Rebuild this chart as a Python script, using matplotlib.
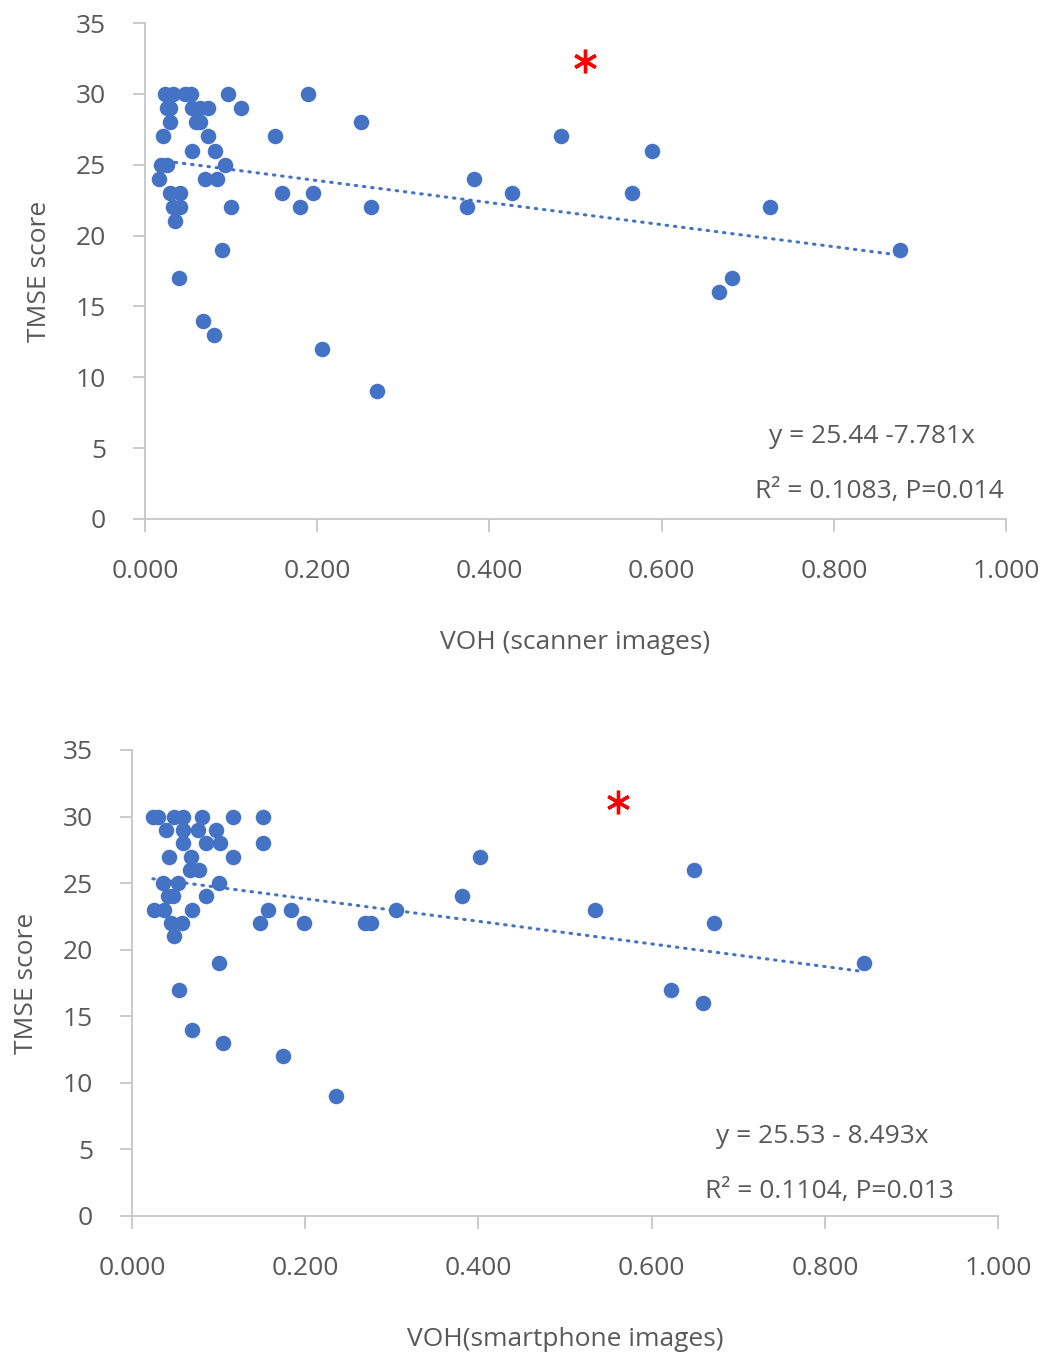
import matplotlib
matplotlib.use("Agg")
import matplotlib.pyplot as plt
import numpy as np

# ---- Data: top panel (scanner images) ----
scan_x = [0.023, 0.033, 0.046, 0.053, 0.096, 0.189,
          0.026, 0.029, 0.055, 0.064, 0.073, 0.111,
          0.029, 0.059, 0.064, 0.251,
          0.021, 0.073, 0.151, 0.483,
          0.055, 0.081, 0.589,
          0.019, 0.026, 0.093,
          0.016, 0.070, 0.083, 0.382,
          0.029, 0.041, 0.159, 0.195, 0.426, 0.566,
          0.033, 0.041, 0.100, 0.180, 0.262, 0.374, 0.726,
          0.035,
          0.089, 0.877,
          0.040, 0.682,
          0.667,
          0.067,
          0.080,
          0.206,
          0.269]
scan_y = [30, 30, 30, 30, 30, 30,
          29, 29, 29, 29, 29, 29,
          28, 28, 28, 28,
          27, 27, 27, 27,
          26, 26, 26,
          25, 25, 25,
          24, 24, 24, 24,
          23, 23, 23, 23, 23, 23,
          22, 22, 22, 22, 22, 22, 22,
          21,
          19, 19,
          17, 17,
          16,
          14,
          13,
          12,
          9]

# ---- Data: bottom panel (smartphone images) ----
phone_x = [0.024, 0.030, 0.049, 0.059, 0.081, 0.117, 0.151,
           0.039, 0.059, 0.076, 0.097,
           0.059, 0.085, 0.101, 0.151,
           0.043, 0.068, 0.117, 0.402,
           0.067, 0.077, 0.649,
           0.036, 0.053, 0.100,
           0.041, 0.047, 0.085, 0.381,
           0.025, 0.037, 0.069, 0.157, 0.184, 0.305, 0.535,
           0.045, 0.058, 0.148, 0.199, 0.269, 0.276, 0.672,
           0.049,
           0.100, 0.845,
           0.054, 0.622,
           0.659,
           0.069,
           0.105,
           0.174,
           0.236]
phone_y = [30, 30, 30, 30, 30, 30, 30,
           29, 29, 29, 29,
           28, 28, 28, 28,
           27, 27, 27, 27,
           26, 26, 26,
           25, 25, 25,
           24, 24, 24, 24,
           23, 23, 23, 23, 23, 23, 23,
           22, 22, 22, 22, 22, 22, 22,
           21,
           19, 19,
           17, 17,
           16,
           14,
           13,
           12,
           9]

scan_fit = (25.44, -7.781)
phone_fit = (25.53, -8.493)
scan_star = (0.511, 32.3)
phone_star = (0.561, 31.1)

x_ticks = [0.0, 0.2, 0.4, 0.6, 0.8, 1.0]
x_ticklabels = ["0.000", "0.200", "0.400", "0.600", "0.800", "1.000"]
y_ticks = [0, 5, 10, 15, 20, 25, 30, 35]

panels = [
    dict(x=scan_x, y=scan_y, fit=scan_fit, star=scan_star,
         xlabel="VOH (scanner images)",
         eq="y = 25.44 -7.781x", r2="R² = 0.1083, P=0.014",
         rect=[0.1384, 0.617, 0.8216, 0.366],
         eq_pos=(0.844, 0.166), r2_pos=(0.997, 0.055), ylabelpad=17),
    dict(x=phone_x, y=phone_y, fit=phone_fit, star=phone_star,
         xlabel="VOH(smartphone images)",
         eq="y = 25.53 - 8.493x", r2="R² = 0.1104, P=0.013",
         rect=[0.126, 0.1026, 0.8264, 0.3439],
         eq_pos=(0.797, 0.170), r2_pos=(0.949, 0.052), ylabelpad=17),
]

GRAY = "#595959"
SPINE = "#c6c6c6"
BLUE = "#4472C4"
FS = 19
plt.rcParams['font.family'] = ['Open Sans', 'DejaVu Sans']

fig = plt.figure(figsize=(10.48, 13.55), dpi=100)

for p in panels:
    ax = fig.add_axes(p["rect"])
    ax.scatter(p["x"], p["y"], s=125, color=BLUE, zorder=3, linewidths=0)
    xs = np.array([min(p["x"]), max(p["x"])])
    a, b = p["fit"]
    ax.plot(xs, a + b * xs, linestyle=(0, (0.5, 2.2)), color=BLUE,
            linewidth=2.2, dash_capstyle='round', zorder=2)
    ax.plot([p["star"][0]], [p["star"][1]], marker=(6, 2, 0), color='red',
            markersize=17, markeredgewidth=2.4, zorder=4, linestyle='none')
    ax.set_xlim(0, 1.0)
    ax.set_ylim(0, 35)
    ax.set_xticks(x_ticks)
    ax.set_xticklabels(x_ticklabels)
    ax.set_yticks(y_ticks)
    for s in ["top", "right"]:
        ax.spines[s].set_visible(False)
    for s in ["left", "bottom"]:
        ax.spines[s].set_color(SPINE)
        ax.spines[s].set_linewidth(1.3)
    ax.tick_params(axis='both', colors=SPINE, length=9, width=1.3,
                   labelcolor=GRAY, labelsize=FS)
    ax.tick_params(axis='y', pad=19)
    ax.tick_params(axis='x', pad=20)
    ax.set_xlabel(p["xlabel"], fontsize=FS, color=GRAY, labelpad=33)
    ax.set_ylabel("TMSE score", fontsize=FS, color=GRAY, labelpad=p["ylabelpad"])
    ax.text(p["eq_pos"][0], p["eq_pos"][1], p["eq"], transform=ax.transAxes,
            ha='center', va='center', fontsize=FS, color=GRAY)
    ax.text(p["r2_pos"][0], p["r2_pos"][1], p["r2"], transform=ax.transAxes,
            ha='right', va='center', fontsize=FS, color=GRAY)

fig.savefig("out.png", dpi=100, facecolor='white')
